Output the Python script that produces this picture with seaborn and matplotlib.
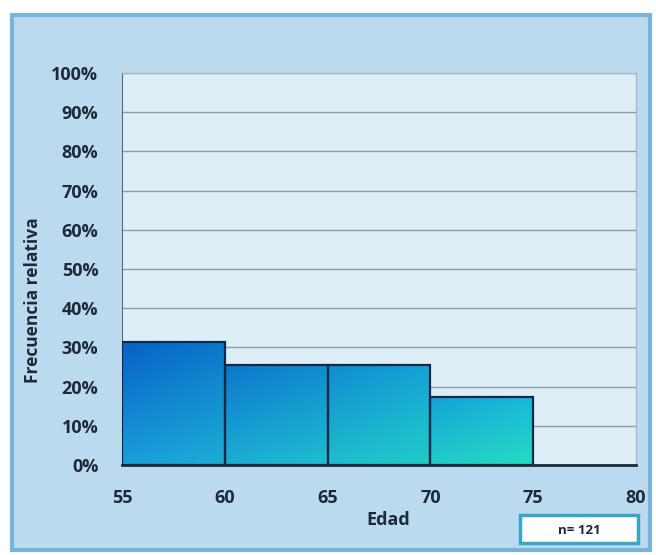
import numpy as np
import pandas as pd
import matplotlib
matplotlib.use("Agg")
import matplotlib.pyplot as plt
from matplotlib.patches import Rectangle
import seaborn as sns

# Age groups (lower edges), counts per group and sample size
bin_edges = [55, 60, 65, 70, 75]
bin_starts = [55, 60, 65, 70]
counts = [38, 31, 31, 21]
n_total = 121
x_ticks = [55, 60, 65, 70, 75, 80]
y_ticks = [0, 10, 20, 30, 40, 50, 60, 70, 80, 90, 100]

df = pd.DataFrame({"edad": bin_starts, "freq": [c / n_total * 100 for c in counts]})

sns.set_style("white")
plt.rcParams["font.family"] = ["Open Sans", "DejaVu Sans"]

fig = plt.figure(figsize=(6.56, 5.55), dpi=100)
fig.patch.set_facecolor("white")

# Outer chart frame
frame = Rectangle((12 / 656, 5 / 555), 638 / 656, 535 / 555, transform=fig.transFigure,
                  facecolor="#bcdaee", edgecolor="#7ab4d8", linewidth=3, zorder=-10)
fig.patches.append(frame)

ax = fig.add_axes([122 / 656, 90 / 555, 514 / 656, 392 / 555])
ax.set_facecolor("#deeef6")

sns.histplot(data=df, x="edad", weights="freq", bins=bin_edges, ax=ax,
             stat="count", element="bars", fill=True, color="#1a8ad8",
             edgecolor="#0d2a4a", linewidth=1.6, alpha=1)

# Gradient fill: blue on the left drifting to teal on the right, lighter toward the base
left_top = np.array([0.03, 0.38, 0.78])
left_bot = np.array([0.10, 0.62, 0.86])
right_top = np.array([0.10, 0.72, 0.86])
right_bot = np.array([0.14, 0.86, 0.76])
for p in ax.patches:
    x0, y0 = p.get_x(), p.get_y()
    w, h = p.get_width(), p.get_height()
    nx, ny = 40, 60
    fx = ((np.linspace(x0, x0 + w, nx) - 55) / 20)[None, :, None]
    fy = np.linspace(0, 1, ny)[:, None, None]  # 0 = bottom, 1 = top
    top = left_top * (1 - fx) + right_top * fx
    bot = left_bot * (1 - fx) + right_bot * fx
    img = bot * (1 - fy) + top * fy
    im = ax.imshow(img, extent=[x0, x0 + w, y0, y0 + h], origin="lower",
                   aspect="auto", zorder=2, interpolation="bilinear")
    im.set_clip_path(p)
    p.set_facecolor("none")
    p.set_zorder(3)

ax.set_xlim(55, 80)
ax.set_ylim(0, 100)
ax.set_xticks(x_ticks)
ax.set_yticks(y_ticks)
ax.set_yticklabels([f"{v}%" for v in y_ticks])
ax.yaxis.grid(True, color="#8e9ca6", linewidth=1.0)
ax.set_axisbelow(True)
ax.tick_params(axis="both", which="both", direction="out", length=5, width=1,
               color="#5a6a78", labelsize=13, labelcolor="#1c2b3c")
ax.tick_params(axis="y", pad=12)
ax.tick_params(axis="x", pad=12)
for lbl in ax.get_xticklabels() + ax.get_yticklabels():
    lbl.set_fontweight("bold")

for side in ["top", "right"]:
    ax.spines[side].set_color("#a8b8c4")
    ax.spines[side].set_linewidth(1)
ax.spines["left"].set_color("#5a6a78")
ax.spines["bottom"].set_color("#1c2b3c")
ax.spines["bottom"].set_linewidth(2)
ax.spines["bottom"].set_zorder(5)

ax.set_xlabel("Edad", fontsize=13, fontweight="bold", color="#1c2b3c", labelpad=0)
ax.set_ylabel("Frecuencia relativa", fontsize=12.5, fontweight="bold", color="#1c2b3c", labelpad=2)
ax.xaxis.set_label_coords((388 - 122) / 514, -46 / 392)
ax.yaxis.set_label_coords(-(122 - 42) / 514, 0.42)

# Sample size box
box = Rectangle((520 / 656, 1 - 543 / 555), 118 / 656, 28 / 555, transform=fig.transFigure,
                facecolor="white", edgecolor="#3aa6c4", linewidth=2.5, zorder=5)
fig.patches.append(box)
fig.text(579 / 656, 1 - 530 / 555, f"n= {n_total}", ha="center", va="center",
         fontsize=9.5, fontweight="bold", color="#1c2b3c", zorder=6)

fig.savefig("out.png", dpi=100, facecolor=fig.get_facecolor())
